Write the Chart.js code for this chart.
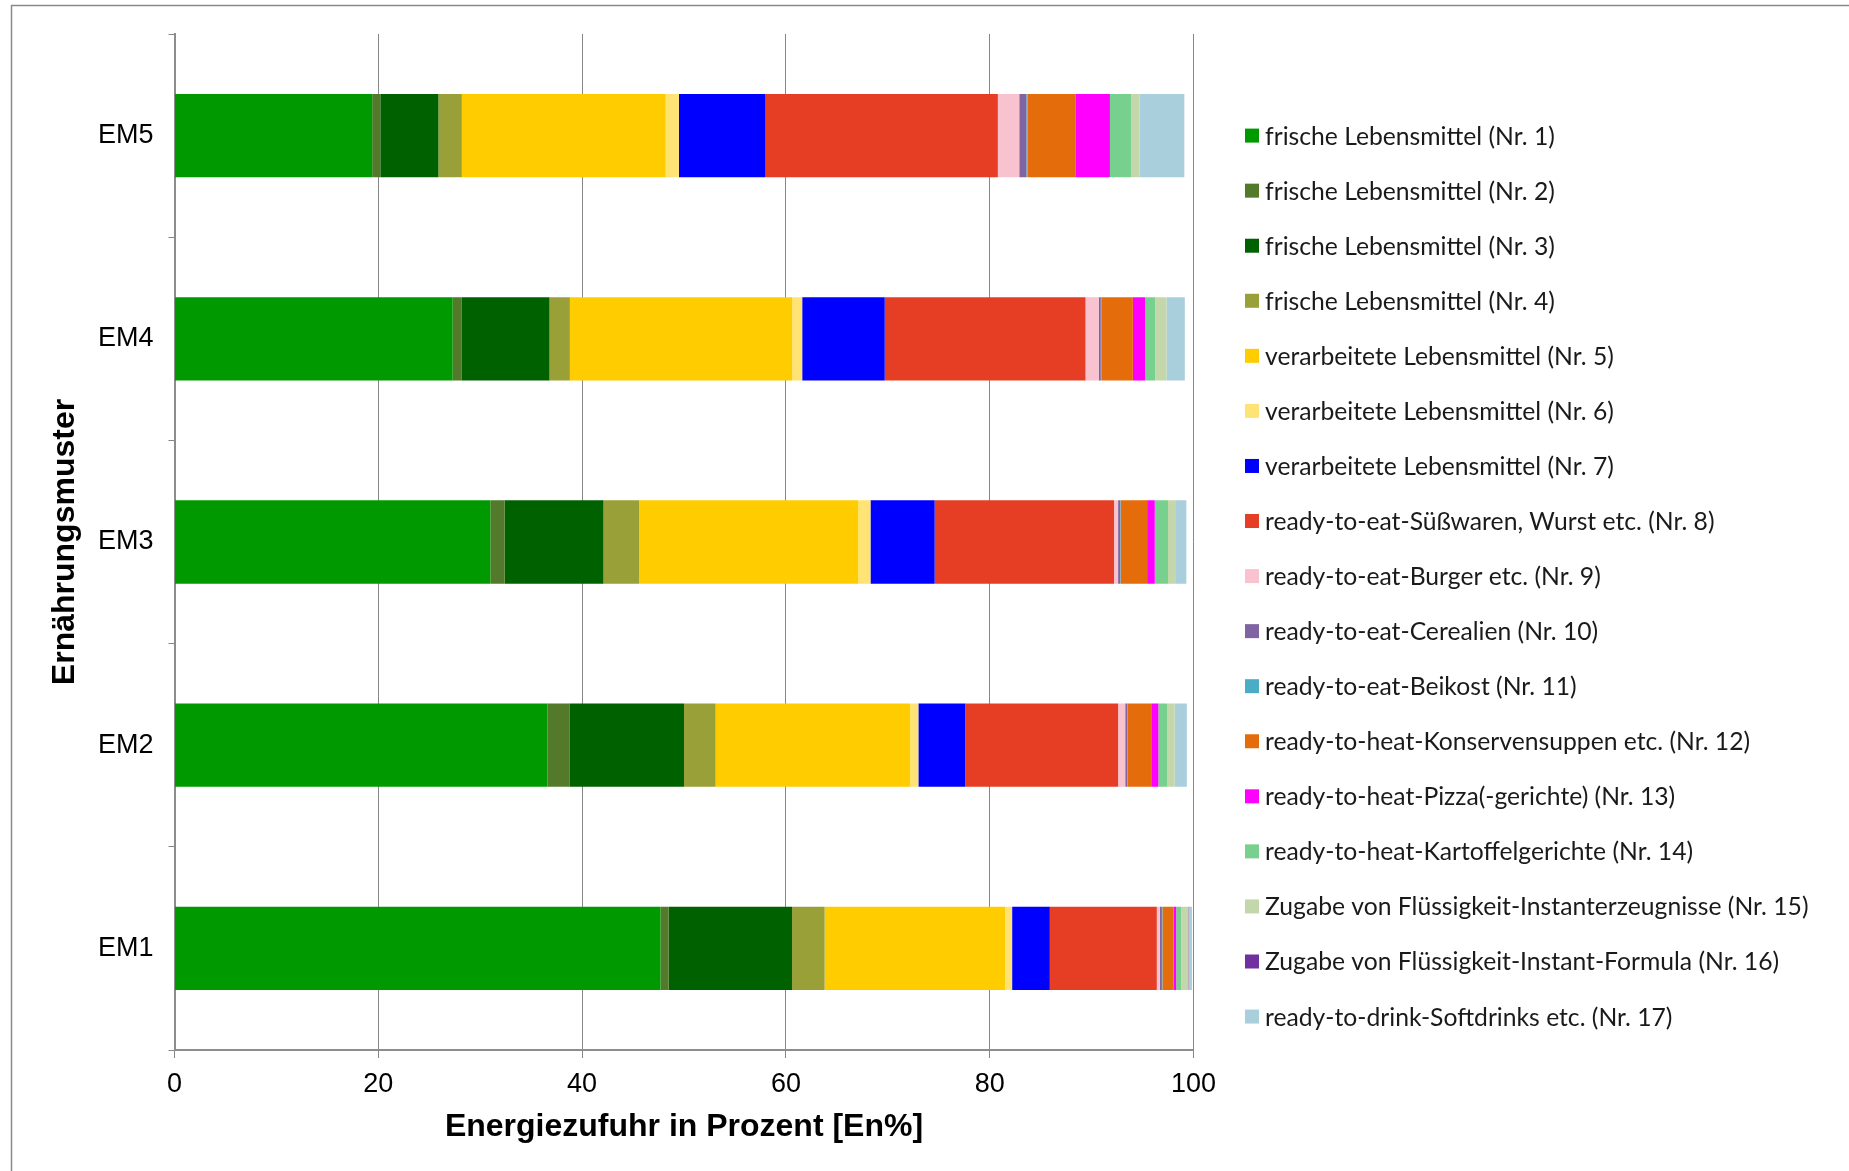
<!DOCTYPE html>
<html lang="de">
<head>
<meta charset="utf-8">
<title>Energiezufuhr nach Ernährungsmuster</title>
<script src="https://cdn.jsdelivr.net/npm/chart.js@4.4.1/dist/chart.umd.min.js"></script>
<style>
  html, body { margin: 0; padding: 0; background: #fff; }
  #wrap { position: relative; width: 1849px; height: 1171px; }
  canvas { display: block; }
</style>
</head>
<body>
<div id="wrap"><canvas id="chart" width="1849" height="1171"></canvas></div>
<script>
// Ernährungsmuster (top to bottom)
const categories = ['EM5', 'EM4', 'EM3', 'EM2', 'EM1'];

// Food groups Nr. 1 – 17
const groupLabels = [
  'frische Lebensmittel (Nr. 1)',
  'frische Lebensmittel (Nr. 2)',
  'frische Lebensmittel (Nr. 3)',
  'frische Lebensmittel (Nr. 4)',
  'verarbeitete Lebensmittel (Nr. 5)',
  'verarbeitete Lebensmittel (Nr. 6)',
  'verarbeitete Lebensmittel (Nr. 7)',
  'ready-to-eat-Süßwaren, Wurst etc. (Nr. 8)',
  'ready-to-eat-Burger etc. (Nr. 9)',
  'ready-to-eat-Cerealien (Nr. 10)',
  'ready-to-eat-Beikost (Nr. 11)',
  'ready-to-heat-Konservensuppen etc. (Nr. 12)',
  'ready-to-heat-Pizza(-gerichte) (Nr. 13)',
  'ready-to-heat-Kartoffelgerichte (Nr. 14)',
  'Zugabe von Flüssigkeit-Instanterzeugnisse (Nr. 15)',
  'Zugabe von Flüssigkeit-Instant-Formula (Nr. 16)',
  'ready-to-drink-Softdrinks etc. (Nr. 17)'
];

// Energy share in En% per food group (Nr. 1 … Nr. 17) for each pattern
const em5 = [19.4, 0.8, 5.7, 2.3, 20.0, 1.3, 8.5, 22.8, 2.1, 0.7, 0.1, 4.7, 3.4, 2.1, 0.8, 0.0, 4.4];
const em4 = [27.3, 0.9, 8.6, 2.0, 21.8, 1.0, 8.1, 19.7, 1.3, 0.2, 0.05, 3.1, 1.2, 1.0, 1.1, 0.0, 1.8];
const em3 = [31.0, 1.4, 9.7, 3.5, 21.5, 1.2, 6.3, 17.6, 0.4, 0.2, 0.05, 2.6, 0.75, 1.3, 0.7, 0.0, 1.1];
const em2 = [36.6, 2.2, 11.2, 3.1, 19.1, 0.8, 4.6, 15.0, 0.7, 0.2, 0.05, 2.3, 0.7, 0.85, 0.75, 0.0, 1.2];
const em1 = [47.7, 0.8, 12.1, 3.2, 17.7, 0.7, 3.7, 10.5, 0.3, 0.2, 0.05, 1.1, 0.25, 0.5, 0.7, 0.05, 0.3];

const xTicks = [0, 20, 40, 60, 80, 100];

const groupColors = [
  '#009900', '#527a2a', '#006100', '#99a037',
  '#ffcc00', '#ffe475', '#0000ff',
  '#e53e24', '#f9c2cf', '#8064a2', '#4bacc6',
  '#e46c0a', '#ff00ff', '#77d08e',
  '#c4d7aa', '#7030a0', '#a9cfdc'
];

const rows = [em5, em4, em3, em2, em1];

const datasets = groupLabels.map((label, i) => ({
  label,
  data: rows.map(r => r[i]),
  backgroundColor: groupColors[i],
  borderWidth: 0,
  barPercentage: 0.41,
  categoryPercentage: 1.0
}));

const axisFont = { family: "'Liberation Sans', Arial, sans-serif", size: 27 };
const titleFont = { family: "'Liberation Sans', Arial, sans-serif", size: 32, weight: 'bold' };
const gridGrey = '#878787';

// Outer frame of the figure
const framePlugin = {
  id: 'frame',
  beforeDraw(chart) {
    const ctx = chart.ctx;
    ctx.save();
    ctx.fillStyle = '#fff';
    ctx.fillRect(0, 0, chart.width, chart.height);
    ctx.strokeStyle = '#8a8a8a';
    ctx.lineWidth = 1.5;
    ctx.beginPath();
    ctx.moveTo(11.5, chart.height + 2);
    ctx.lineTo(11.5, 5.5);
    ctx.lineTo(chart.width + 2, 5.5);
    ctx.stroke();
    ctx.restore();
  }
};

// Vertical legend to the right of the plot
const sideLegend = {
  id: 'sideLegend',
  afterDraw(chart) {
    const ctx = chart.ctx;
    const x0 = 1245, y0 = 135.6, step = 55.06, box = 14;
    ctx.save();
    ctx.font = "24.7px Lato, 'Open Sans', sans-serif";
    ctx.textBaseline = 'middle';
    ctx.textAlign = 'left';
    chart.data.datasets.forEach((ds, i) => {
      const y = y0 + i * step;
      ctx.fillStyle = ds.backgroundColor;
      ctx.fillRect(x0, y - box / 2, box, box);
      ctx.fillStyle = '#1a1a1a';
      ctx.fillText(ds.label, x0 + 20, y + 1);
    });
    ctx.restore();
  }
};

new Chart(document.getElementById('chart'), {
  type: 'bar',
  data: { labels: categories, datasets },
  plugins: [framePlugin, sideLegend],
  options: {
    responsive: false,
    animation: false,
    indexAxis: 'y',
    layout: { padding: { top: 34, right: 655.5, bottom: 0, left: 0 } },
    plugins: {
      legend: { display: false },
      tooltip: { enabled: false }
    },
    scales: {
      x: {
        stacked: true,
        min: xTicks[0],
        max: xTicks[xTicks.length - 1],
        afterBuildTicks(scale) { scale.ticks = xTicks.map(v => ({ value: v })); },
        ticks: { font: axisFont, color: '#000', padding: 10.5, maxRotation: 0 },
        grid: { color: gridGrey, lineWidth: 1, tickLength: 8, tickColor: gridGrey },
        border: { color: '#8c8c8c', width: 2 },
        title: {
          display: true,
          text: 'Energiezufuhr in Prozent [En%]',
          font: titleFont,
          color: '#000',
          padding: { top: 0, bottom: 25 }
        },
        afterFit(scale) { scale.height = 121; }
      },
      y: {
        stacked: true,
        ticks: { font: axisFont, color: '#000', padding: 15 },
        grid: { drawOnChartArea: false, offset: true, tickLength: 6, color: gridGrey, tickColor: gridGrey },
        border: { color: '#8c8c8c', width: 2 },
        title: {
          display: true,
          text: 'Ernährungsmuster',
          font: titleFont,
          color: '#000',
          padding: { top: 45.6, bottom: 0 }
        },
        afterFit(scale) { scale.width = 174.5; }
      }
    }
  }
});
</script>
</body>
</html>
